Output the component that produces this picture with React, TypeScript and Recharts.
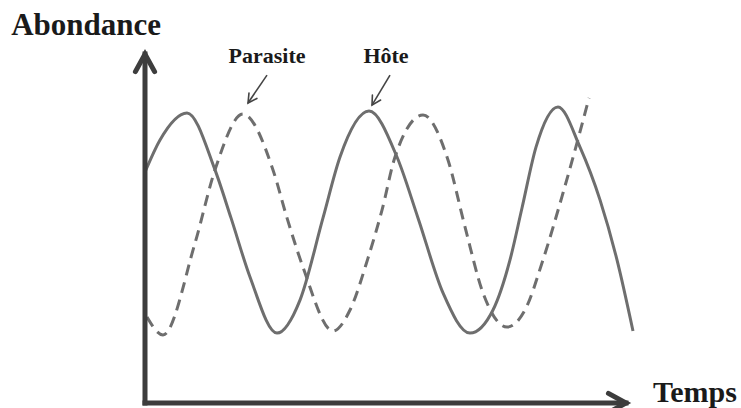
import { Line, LineChart, ReferenceLine, XAxis, YAxis } from "recharts";

// Hôte (solid) – time / abundance
const hostTime = [0, 3, 8.4, 14, 17.2, 21, 26.4, 31, 35.6, 39, 44.8, 50.4, 54.6, 59.6, 65, 69.6, 73, 75.4, 78.2, 82.6, 87, 91, 94.4, 97.6];
const hostAbundance = [77, 87.7, 96.7, 77.7, 61.7, 42, 23.3, 34.3, 61.7, 82, 97.3, 82, 61.7, 36.7, 23.3, 31, 47.7, 65, 85.3, 98.7, 85.3, 67.7, 47.7, 24];

// Parasite (dashed)
const parasiteTime = [0.4, 3.6, 10, 14, 19.6, 25.6, 28.4, 31.6, 37.6, 41, 44.6, 47.4, 50, 55.6, 60.6, 64, 67.6, 72.4, 76, 79.6, 83.6, 86.4, 88.8];
const parasiteAbundance = [28.7, 22.7, 53.3, 77.7, 96.3, 77.7, 61.7, 45.3, 24, 31, 48.3, 64.3, 82, 96, 81, 58.7, 36.7, 25.3, 31, 47.7, 70, 86.7, 101.7];

const seriesNames = ["Hôte", "Parasite"];
const xTitle = "Temps";
const yTitle = "Abondance";

// axis extents (arrow tips) and label arrows: [from, to] in data units
const xAxisEnd = 96.2;
const yAxisEnd = 116.3;
const parasiteArrow = [{ x: 24.4, y: 109.3 }, { x: 20.6, y: 100 }];
const hostArrow = [{ x: 49, y: 109.3 }, { x: 45.4, y: 99.3 }];

const hostData = hostTime.map((t, i) => ({ t, v: hostAbundance[i] }));
const parasiteData = parasiteTime.map((t, i) => ({ t, v: parasiteAbundance[i] }));

const FONT = "'Liberation Serif', 'Times New Roman', serif";
const AXIS = "#3d3d3d";
const CURVE = "#6e6e6e";

type ArrowOpts = {
  color: string;
  width: number;
  head: number;
  spread: number;
  label?: string;
  dx?: number;
  dy?: number;
  anchor?: "start" | "middle" | "end";
  fontSize?: number;
  cap?: "butt" | "square" | "round";
};

function arrowShape(o: ArrowOpts) {
  return (props: any) => {
    const { x1, y1, x2, y2 } = props;
    const ang = Math.atan2(y2 - y1, x2 - x1);
    const w1x = x2 - o.head * Math.cos(ang - o.spread);
    const w1y = y2 - o.head * Math.sin(ang - o.spread);
    const w2x = x2 - o.head * Math.cos(ang + o.spread);
    const w2y = y2 - o.head * Math.sin(ang + o.spread);
    return (
      <g>
        <line x1={x1} y1={y1} x2={x2} y2={y2} stroke={o.color} strokeWidth={o.width} strokeLinecap={o.cap ?? "butt"} />
        <polyline
          points={`${w1x},${w1y} ${x2},${y2} ${w2x},${w2y}`}
          fill="none"
          stroke={o.color}
          strokeWidth={o.width}
          strokeLinejoin="miter"
          strokeLinecap="round"
        />
        {o.label && (
          <text
            x={x1 + (o.dx ?? 0)}
            y={y1 + (o.dy ?? 0)}
            textAnchor={o.anchor ?? "middle"}
            fontFamily={FONT}
            fontWeight="bold"
            fontSize={o.fontSize ?? 22}
            fill="#1a1a1a"
          >
            {o.label}
          </text>
        )}
      </g>
    );
  };
}

// axis arrow whose title sits next to the tip
function axisArrowShape(o: ArrowOpts) {
  const base = arrowShape({ ...o, label: undefined });
  return (props: any) => (
    <g>
      {base(props)}
      <text
        x={props.x2 + (o.dx ?? 0)}
        y={props.y2 + (o.dy ?? 0)}
        textAnchor={o.anchor ?? "start"}
        fontFamily={FONT}
        fontWeight="bold"
        fontSize={o.fontSize ?? 30}
        fill="#1a1a1a"
      >
        {o.label}
      </text>
    </g>
  );
}

export default function App() {
  return (
    <div style={{ position: "absolute", left: 0, top: 0, background: "#fff" }}>
      <LineChart width={741} height={408} margin={{ top: 73, right: 96, bottom: 5, left: 145 }}>
        <XAxis type="number" dataKey="t" domain={[0, 100]} hide allowDataOverflow />
        <YAxis type="number" domain={[0, 110]} hide allowDataOverflow />
        <Line
          data={parasiteData}
          dataKey="v"
          name={seriesNames[1]}
          type="monotone"
          stroke={CURVE}
          strokeWidth={3}
          strokeDasharray="11 7"
          dot={false}
          activeDot={false}
          isAnimationActive={false}
        />
        <Line
          data={hostData}
          dataKey="v"
          name={seriesNames[0]}
          type="monotone"
          stroke={CURVE}
          strokeWidth={3}
          dot={false}
          activeDot={false}
          isAnimationActive={false}
        />
        <ReferenceLine
          segment={[{ x: 0, y: 0 }, { x: 0, y: yAxisEnd }]}
          ifOverflow="visible"
          shape={axisArrowShape({ color: AXIS, width: 5, head: 20, spread: 0.5, cap: "square", label: yTitle, dx: 16, dy: -19, anchor: "end", fontSize: 31 })}
        />
        <ReferenceLine
          segment={[{ x: 0, y: 0 }, { x: xAxisEnd, y: 0 }]}
          ifOverflow="visible"
          shape={axisArrowShape({ color: AXIS, width: 5, head: 20, spread: 0.5, cap: "square", label: xTitle, dx: 27, dy: -1, anchor: "start", fontSize: 30 })}
        />
        <ReferenceLine
          segment={parasiteArrow}
          ifOverflow="visible"
          shape={arrowShape({ color: "#444", width: 1.6, head: 10, spread: 0.5, label: seriesNames[1], dy: -12 })}
        />
        <ReferenceLine
          segment={hostArrow}
          ifOverflow="visible"
          shape={arrowShape({ color: "#444", width: 1.6, head: 10, spread: 0.5, label: seriesNames[0], dx: -4, dy: -12 })}
        />
      </LineChart>
    </div>
  );
}
